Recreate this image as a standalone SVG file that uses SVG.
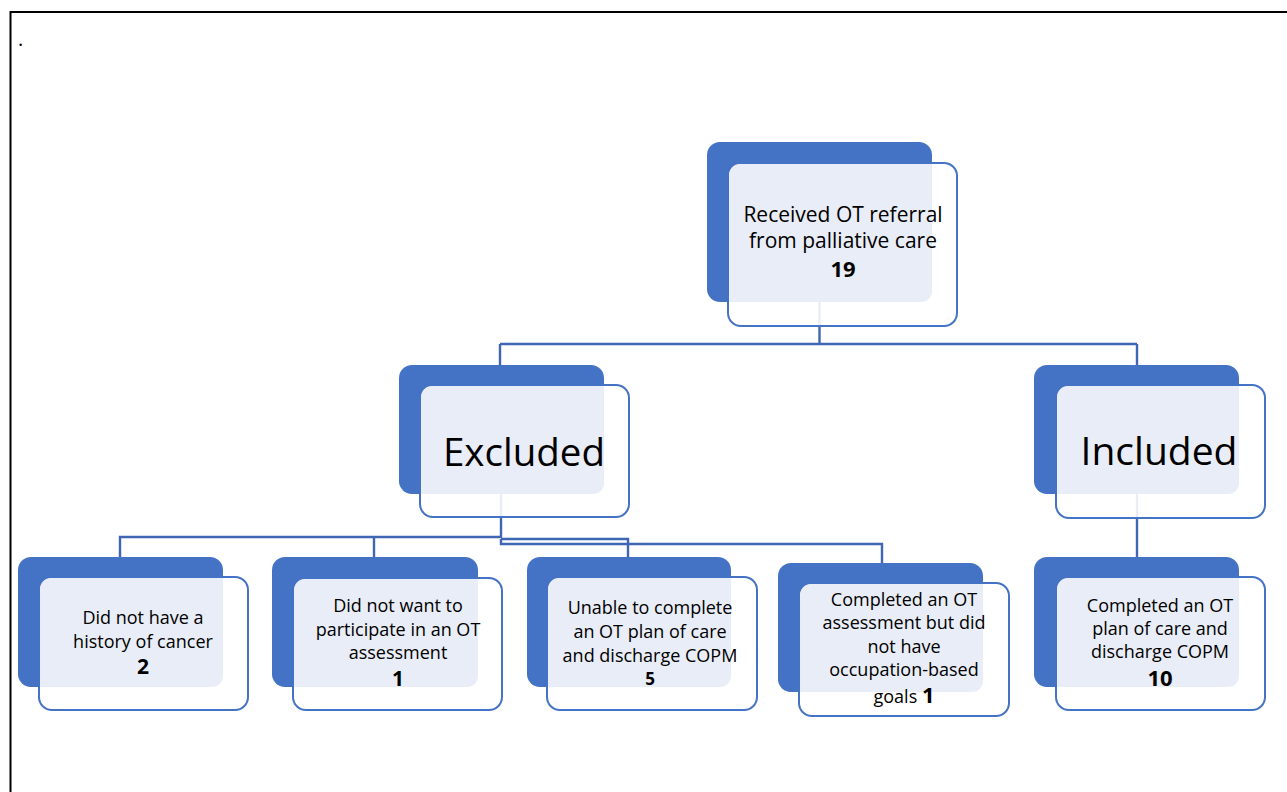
<svg xmlns="http://www.w3.org/2000/svg" width="1287" height="792" viewBox="0 0 1287 792">
<style>
.back{fill:#4472C4}
.front{fill:#ffffff;fill-opacity:0.88;stroke:#4472C4;stroke-width:2}
.light{fill:#E9EDF7}
.conn{fill:none;stroke:#3F66B3;stroke-width:2.4}
.t{font-family:"Open Sans","Noto Sans","Liberation Sans",sans-serif;fill:#000;text-anchor:middle}
.s{font-size:18px}
.b{font-weight:bold}
</style>
<rect x="0" y="0" width="1287" height="792" fill="#ffffff"/>
<g id="frame">
<path d="M10.5 792 V12 H1287" fill="none" stroke="#000" stroke-width="2"/>
<text x="18" y="46" class="t" style="font-size:20px;text-anchor:start">.</text>
</g>
<g id="connectors">
<path class="conn" d="M819.5 300 V344 M500 344 H1137 M500 344 V366 M1137 344 V366"/>
<path class="conn" d="M501 493 V537 H120 V557 M501 537 H374 V557 M501 539 H628 V557 M501 539 V544 H882 V563"/>
<path class="conn" d="M1137 493 V557"/>
</g>
<g id="n-referral">
<rect class="back" x="707" y="142" width="225" height="160" rx="13"/>
<rect class="front" x="728" y="163" width="229" height="163" rx="13"/>
<rect class="light" x="729" y="164" width="203" height="138" rx="11"/>
<text class="t" x="843" y="222" style="font-size:21px">Received OT referral</text>
<text class="t" x="843" y="248" style="font-size:21px">from palliative care</text>
<text class="t b" x="843" y="277" style="font-size:22px">19</text>
</g>
<g id="n-excluded">
<rect class="back" x="399" y="365" width="205" height="129" rx="13"/>
<rect class="front" x="420" y="385" width="209" height="132" rx="13"/>
<rect class="light" x="421" y="386" width="183" height="108" rx="11"/>
<text class="t" x="524" y="466" style="font-size:38.5px">Excluded</text>
</g>
<g id="n-included">
<rect class="back" x="1034" y="365" width="205" height="129" rx="13"/>
<rect class="front" x="1056" y="385" width="209" height="133" rx="13"/>
<rect class="light" x="1057" y="386" width="182" height="108" rx="11"/>
<text class="t" x="1159" y="465" style="font-size:39px">Included</text>
</g>
<g id="n-cancer">
<rect class="back" x="18" y="557" width="205" height="130" rx="13"/>
<rect class="front" x="39" y="577" width="209" height="133" rx="13"/>
<rect class="light" x="40" y="578" width="183" height="109" rx="11"/>
<text class="t s" x="143" y="624">Did not have a</text>
<text class="t s" x="143" y="648">history of cancer</text>
<text class="t b" x="143" y="674" style="font-size:21px">2</text>
</g>
<g id="n-notwant">
<rect class="back" x="272" y="557" width="206" height="130" rx="13"/>
<rect class="front" x="293" y="578" width="209" height="132" rx="13"/>
<rect class="light" x="294" y="579" width="184" height="108" rx="11"/>
<text class="t s" x="398" y="612">Did not want to</text>
<text class="t s" x="398" y="636">participate in an OT</text>
<text class="t s" x="398" y="659">assessment</text>
<text class="t b" x="398" y="686" style="font-size:21px">1</text>
</g>
<g id="n-unable">
<rect class="back" x="527" y="557" width="204" height="130" rx="13"/>
<rect class="front" x="547" y="577" width="210" height="133" rx="13"/>
<rect class="light" x="548" y="578" width="183" height="109" rx="11"/>
<text class="t s" x="650" y="614">Unable to complete</text>
<text class="t s" x="650" y="638">an OT plan of care</text>
<text class="t s" x="650" y="662">and discharge COPM</text>
<text class="t b" x="650" y="685" style="font-size:17px">5</text>
</g>
<g id="n-nogoals">
<rect class="back" x="778" y="563" width="205" height="129" rx="13"/>
<rect class="front" x="799" y="583" width="210" height="133" rx="13"/>
<rect class="light" x="800" y="584" width="183" height="108" rx="11"/>
<text class="t s" x="904" y="606">Completed an OT</text>
<text class="t s" x="904" y="629">assessment but did</text>
<text class="t s" x="904" y="653">not have</text>
<text class="t s" x="904" y="676">occupation-based</text>
<text class="t s" x="904" y="703">goals <tspan class="b" style="font-size:22px">1</tspan></text>
</g>
<g id="n-completed">
<rect class="back" x="1034" y="557" width="205" height="130" rx="13"/>
<rect class="front" x="1056" y="577" width="209" height="133" rx="13"/>
<rect class="light" x="1057" y="578" width="182" height="109" rx="11"/>
<text class="t s" x="1160" y="612">Completed an OT</text>
<text class="t s" x="1160" y="635">plan of care and</text>
<text class="t s" x="1160" y="658">discharge COPM</text>
<text class="t b" x="1160" y="686" style="font-size:22px">10</text>
</g>
</svg>
